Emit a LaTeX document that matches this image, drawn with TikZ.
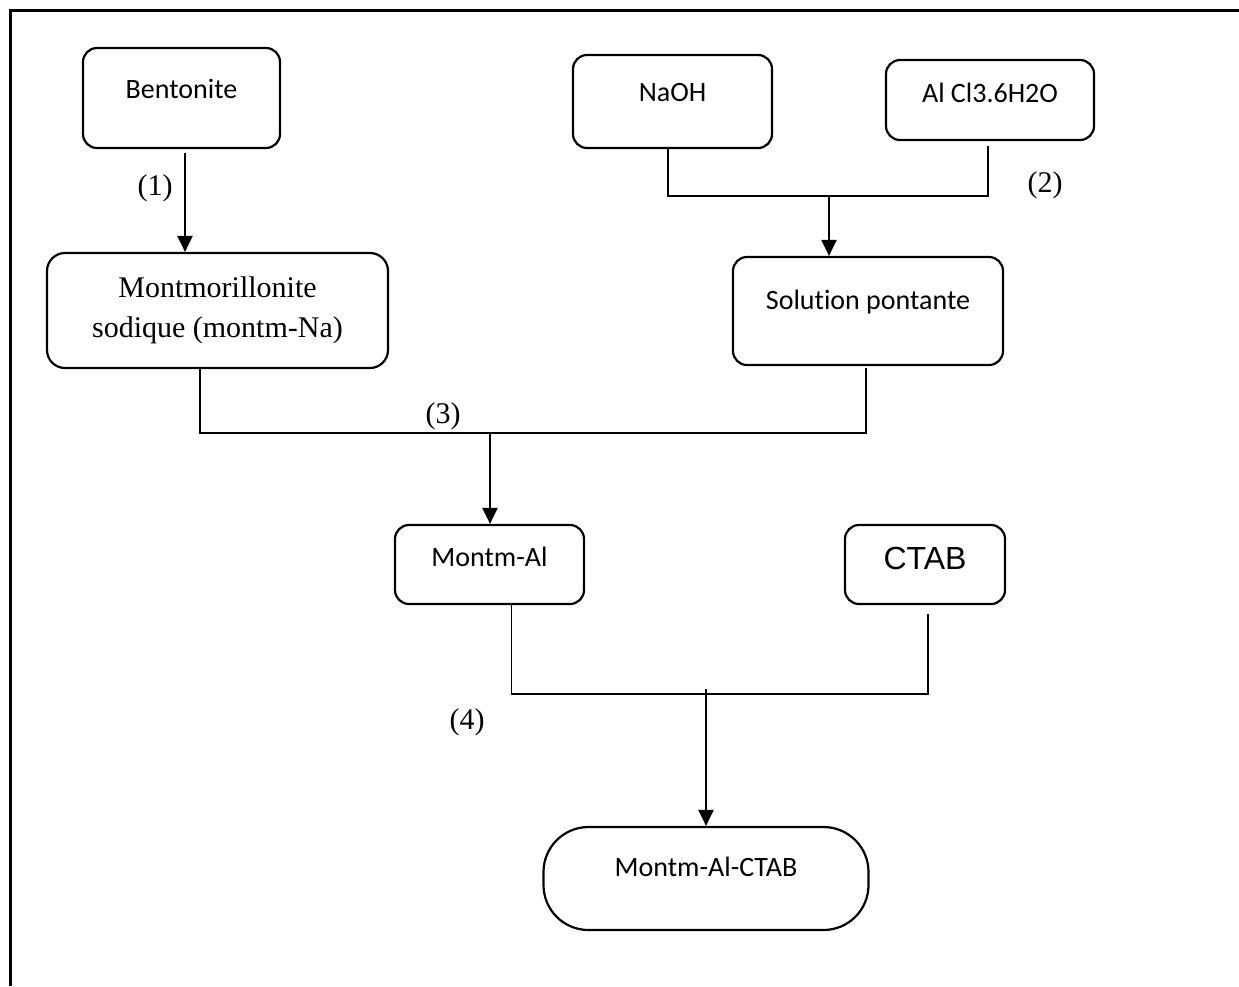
\documentclass[tikz,border=0pt]{standalone}
\usepackage{fontspec}
\setmainfont{Liberation Serif}
\newfontfamily\calib[Ligatures=NoCommon]{Carlito}
\newfontfamily\arial{Liberation Sans}
\usetikzlibrary{arrows.meta}

\begin{document}
\begin{tikzpicture}[x=1pt,y=-1pt,
  blk/.style={draw,line width=2.2pt,rounded corners=14pt,inner sep=0pt,
    font=\calib\fontsize{28}{34}\selectfont,text height=12pt,text depth=12pt},
  serifblk/.style={draw,line width=2.2pt,rounded corners=18pt,inner sep=0pt,
    align=center,font=\fontsize{30}{40}\selectfont},
  link/.style={line width=1.6pt},
  arr/.style={-{Triangle[length=16pt,width=15pt]},line width=2.2pt},
  lbl/.style={font=\fontsize{30}{36}\selectfont,inner sep=0pt},
  frame/.style={line width=3pt}]
  \useasboundingbox (0,0) rectangle (1239,986);
  \draw[frame] (10.5,986) -- (10.5,10.5) -- (1239,10.5);
  % boites
  \node[blk,minimum width=197pt,minimum height=100pt] (bent) at (181.5,98) {Bentonite};
  \node[serifblk,minimum width=341pt,minimum height=115pt] (montna) at (217.5,310.5)
    {Montmorillonite\\sodique (montm-Na)};
  \node[blk,minimum width=199pt,minimum height=93pt] (naoh) at (672.5,101.5) {NaOH};
  \node[blk,minimum width=208pt,minimum height=80pt,text height=14pt,text depth=10pt] (alcl) at (990,100) {Al Cl3.6H2O};
  \node[blk,minimum width=270pt,minimum height=108pt,text depth=16pt] (sol) at (868,311) {Solution pontante};
  \node[blk,minimum width=189pt,minimum height=79pt,text height=14pt,text depth=11pt] (mal) at (489.5,564.5) {Montm-Al};
  \node[blk,minimum width=160pt,minimum height=79pt,font=\arial\fontsize{32}{38}\selectfont,
    text height=17pt,text depth=7pt] (ctab) at (925,564.5) {CTAB};
  \node[blk,rounded corners=45pt,minimum width=325pt,minimum height=103pt,text depth=17pt] (final) at (706,878.5) {Montm-Al-CTAB};
  % jonctions
  \coordinate (j2) at (829,196);
  \coordinate (j3) at (490,433);
  \coordinate (j4) at (706,694);
  % (1)
  \draw[arr] ([xshift=3.5pt,yshift=-4pt]bent.south) -- ([xshift=3.5pt]bent.south |- montna.north);
  \node[lbl] (l1) at (155,188) {(1)};
  % (2)
  \draw[link] ([xshift=-4.5pt]naoh.south) |- (j2) -| ([xshift=-2pt,yshift=-5pt]alcl.south);
  \draw[arr] (j2) -- (j2 |- sol.north);
  \node[lbl] (l2) at (1045,185) {(2)};
  % (3)
  \draw[link] ([xshift=-17.5pt]montna.south) |- (j3) -| ([xshift=-2pt,yshift=-2pt]sol.south);
  \draw[arr] (j3) -- (j3 |- mal.north);
  \node[lbl] (l3) at (443,416) {(3)};
  % (4)
  \draw[link] ([xshift=22pt]mal.south) |- (j4) -| ([xshift=3pt,yshift=-9pt]ctab.south);
  \draw[arr] ([yshift=5pt]j4) -- (j4 |- final.north);
  \node[lbl] (l4) at (467,722) {(4)};
\end{tikzpicture}
\end{document}
